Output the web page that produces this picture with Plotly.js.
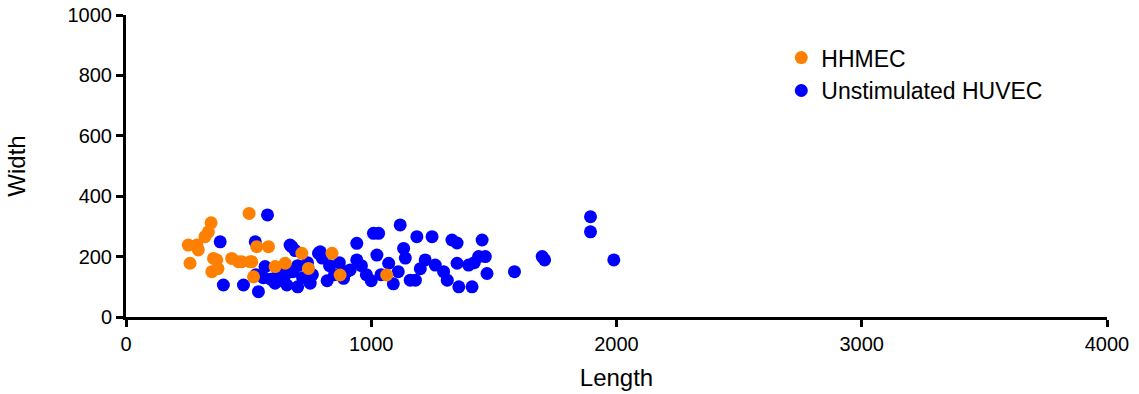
<!DOCTYPE html>
<html>
<head>
<meta charset="utf-8">
<script src="https://cdn.plot.ly/plotly-3.0.1.min.js"></script>
<style>html,body{margin:0;padding:0;background:#fff;}#chart{width:1139px;height:394px;}</style>
</head>
<body>
<div id="chart"></div>
<script>
// HHMEC (orange)
const hhmecLength = [502, 347, 336, 322, 254, 289, 261, 350, 357, 370, 431, 458, 472, 513, 533, 581, 520, 608, 649, 717, 744, 840, 873, 1063, 506, 295, 375];
const hhmecWidth  = [343, 312, 282, 266, 238, 238, 178, 150, 194, 189, 194, 183, 183, 183, 233, 233, 133, 167, 178, 211, 161, 211, 139, 139, 183, 222, 160];

// Unstimulated HUVEC (blue)
const huvecLength = [577, 384, 527, 397, 479, 540, 567, 608, 530, 560, 676, 690, 785, 669, 792, 800, 635, 656, 751, 700, 720, 680, 620, 760, 590, 650, 700, 830, 870, 941, 1009, 1030, 1118, 1023, 941, 960, 914, 887, 980, 1132, 1139, 1186, 1159, 1090, 1110, 1071, 1248, 1329, 1350, 1452, 1220, 1261, 1295, 1310, 1350, 1357, 1411, 1397, 1438, 1465, 1472, 1180, 1894, 1894, 1989, 1697, 1707, 1584, 1040, 1000, 900, 850, 740, 820, 1200, 1420];
const huvecWidth  = [338, 249, 249, 106, 106, 84, 167, 112, 140, 130, 233, 220, 211, 238, 216, 195, 122, 106, 112, 100, 130, 150, 150, 140, 125, 140, 170, 170, 180, 244, 277, 277, 305, 205, 189, 170, 156, 128, 140, 227, 195, 266, 122, 110, 150, 178, 266, 255, 245, 255, 189, 172, 150, 122, 178, 100, 100, 172, 200, 200, 144, 122, 332, 282, 189, 200, 189, 150, 140, 120, 150, 140, 180, 120, 160, 180];

const xTicks = [0, 1000, 2000, 3000, 4000];
const yTicks = [0, 200, 400, 600, 800, 1000];

const font = "Liberation Sans, Arial, Helvetica, sans-serif";

const traces = [
  {
    x: huvecLength, y: huvecWidth, name: "Unstimulated HUVEC",
    type: "scatter", mode: "markers",
    marker: {color: "#0000ff", size: 13}, cliponaxis: false
  },
  {
    x: hhmecLength, y: hhmecWidth, name: "HHMEC",
    type: "scatter", mode: "markers",
    marker: {color: "#ff8000", size: 13}, cliponaxis: false
  }
];

const layout = {
  width: 1139, height: 394,
  margin: {l: 126, r: 32, t: 15, b: 77},
  paper_bgcolor: "#fff", plot_bgcolor: "#fff",
  font: {family: font, color: "#000", size: 20},
  showlegend: true,
  legend: {
    x: 0.668, y: 0.93, xanchor: "left", yanchor: "top",
    traceorder: "reversed",
    font: {family: font, size: 23, color: "#000"},
    bgcolor: "rgba(0,0,0,0)", itemwidth: 30, tracegroupgap: 0
  },
  xaxis: {
    range: [0, 4000], tickvals: xTicks, ticktext: xTicks.map(String),
    showgrid: false, zeroline: false,
    showline: true, linecolor: "#000", linewidth: 3,
    ticks: "outside", ticklen: 7, tickwidth: 3, tickcolor: "#000",
    tickfont: {family: font, size: 20, color: "#000"},
    title: {text: "Length", font: {family: font, size: 24, color: "#000"}, standoff: 16}
  },
  yaxis: {
    range: [0, 1000], tickvals: yTicks, ticktext: yTicks.map(String),
    showgrid: false, zeroline: false,
    showline: true, linecolor: "#000", linewidth: 3,
    ticks: "outside", ticklen: 7, tickwidth: 3, tickcolor: "#000",
    tickfont: {family: font, size: 20, color: "#000"},
    title: {text: "Width", font: {family: font, size: 24, color: "#000"}, standoff: 36}
  }
};

Plotly.newPlot("chart", traces, layout, {displayModeBar: false, staticPlot: true});
</script>
</body>
</html>
